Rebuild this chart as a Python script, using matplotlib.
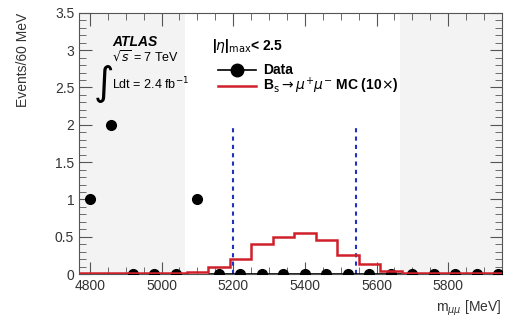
import numpy as np
import matplotlib.pyplot as plt
from matplotlib.ticker import MultipleLocator

plt.rcParams["font.family"] = ["Liberation Sans", "DejaVu Sans"]

# bins of 60 MeV
bin_edges = [4770 + 60 * i for i in range(21)]
bin_centers = [4800 + 60 * i for i in range(20)]
data_counts = [1, 2, 0, 0, 0, 1, 0, 0, 0, 0, 0, 0, 0, 0, 0, 0, 0, 0, 0, 0]
mc_counts = [0.01, 0.01, 0.01, 0.01, 0.01, 0.03, 0.09, 0.2, 0.41, 0.5,
             0.55, 0.46, 0.26, 0.14, 0.04, 0.01, 0.01, 0.01, 0.01, 0.01]
blind_lo, blind_hi = 5066, 5666
window_lo, window_hi = 5200, 5542

fig = plt.figure(figsize=(5.07, 3.21), dpi=100)
ax = fig.add_axes([0.156, 0.146, 0.834, 0.814])
xmin, xmax = 4770, 5950

ax.axvspan(xmin, blind_lo, color="#f3f3f3", lw=0, zorder=0)
ax.axvspan(blind_hi, xmax, color="#f3f3f3", lw=0, zorder=0)

xerr = [30 if c == 0 else 0 for c in data_counts]
ax.errorbar(bin_centers, data_counts, xerr=xerr, fmt="o", color="black",
            ms=7, elinewidth=1.2, capsize=0, zorder=3)

ax.stairs(mc_counts, bin_edges, color="#d0202a", lw=1.8, zorder=4)

ax.vlines([window_lo, window_hi], 0, 2.0, colors="#2030c0", linestyles=(0, (2, 2)),
          lw=1.5, zorder=2)

ax.set_xlim(xmin, xmax)
ax.set_ylim(0, 3.5)
ax.xaxis.set_major_locator(MultipleLocator(200))
ax.xaxis.set_minor_locator(MultipleLocator(50))
ax.yaxis.set_major_locator(MultipleLocator(0.5))
ax.yaxis.set_minor_locator(MultipleLocator(0.1))
ax.tick_params(which="both", direction="in", top=True, right=True,
               labelsize=10, labelcolor="#333333", color="#555555")
ax.tick_params(which="major", length=9)
ax.tick_params(which="minor", length=5)
ax.yaxis.set_major_formatter(plt.FuncFormatter(lambda v, p: f"{v:g}"))
for s in ax.spines.values():
    s.set_color("#555555")

ax.set_ylabel("Events/60 MeV", fontsize=10, color="#333333", loc="top", labelpad=18)
ax.set_xlabel(r"m$_{\mu\mu}$ [MeV]", fontsize=10, color="#333333", loc="right")

# ATLAS labels
ax.text(4862, 3.11, "ATLAS", fontsize=10, fontweight="bold", style="italic", va="center")
ax.text(4862, 2.9, r"$\sqrt{s}$ = 7 TeV", fontsize=9, va="center")
ax.text(4810, 2.55, r"$\int$", fontsize=20, va="center")
ax.text(4862, 2.55, r"Ldt = 2.4 fb$^{-1}$", fontsize=9, va="center")

# legend
ax.text(5142, 3.05, r"|$\eta$|$_{\mathrm{max}}$< 2.5", fontsize=10, fontweight="bold",
        va="center")
ax.plot([5158, 5264], [2.73, 2.73], color="black", lw=1.2)
ax.plot([5211], [2.73], "o", color="black", ms=9)
ax.text(5283, 2.73, "Data", fontsize=10, fontweight="bold", va="center")
ax.plot([5158, 5264], [2.52, 2.52], color="#d0202a", lw=1.8)
ax.text(5283, 2.52, r"B$_\mathrm{s}$$\rightarrow\mu^{+}\mu^{-}$ MC (10$\times$)",
        fontsize=10, fontweight="bold", va="center")

fig.savefig("out.png", dpi=100)
